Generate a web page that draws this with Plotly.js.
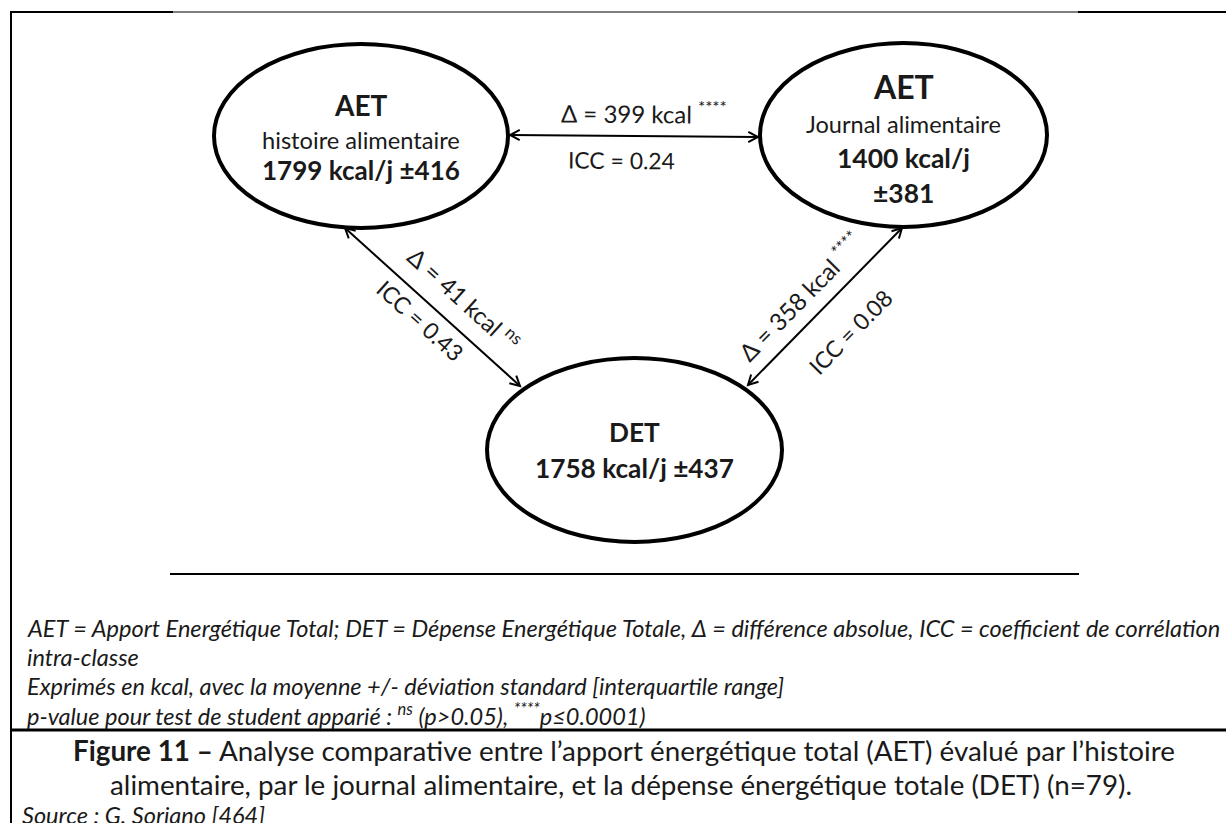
<!DOCTYPE html>
<html><head><meta charset="utf-8">
<script src="https://cdn.plot.ly/plotly-3.0.1.min.js"></script>
<style>html,body{margin:0;padding:0;background:#fff;overflow:hidden}#chart{width:1226px;height:823px}</style>
</head><body><div id="chart"></div>
<script>
// ---------------- data ----------------
const measureNames   = ['AET', 'AET', 'DET'];
const measureMethods = ['histoire alimentaire', 'Journal alimentaire', ''];
const meanKcal       = [1799, 1400, 1758];
const sdKcal         = [416, 381, 437];
const pairFrom       = [0, 0, 2];
const pairTo         = [1, 2, 1];
const deltaKcal      = [399, 41, 358];
const iccValues      = [0.24, 0.43, 0.08];
const significance   = ['****', 'ns', '****'];
const nSubjects      = 79;
const figureNumber   = 11;
const sourceRef      = 'G. Soriano [464]';

// ---------------- layout geometry (pixel space) ----------------
const W = 1226, H = 823;
const FONT = 'Lato';
const INK = '#1a1a1a';
const nodeBox = [
  {cx: 361,   cy: 136, rx: 147,   ry: 92},
  {cx: 903.5, cy: 135, rx: 143.5, ry: 92},
  {cx: 634.5, cy: 450, rx: 147.5, ry: 92}
];
// arrow endpoints per pair [start, end]
const arrowEnds = [
  [[510, 135], [758, 137]],
  [[345, 228], [520, 386]],
  [[748, 385], [902, 228]]
];
const deltaPos = [[644, 112], [465, 298], [800, 296]];
const iccPos   = [[621, 160], [420, 320], [850, 332]];

const ctx = document.createElement('canvas').getContext('2d');
function fit(str, target, weight, style) {
  ctx.font = (style || 'normal') + ' ' + (weight || 'normal') + ' 100px ' + FONT;
  return 100 * target / ctx.measureText(str).width;
}

const shapes = [];
const annotations = [];
function ann(text, x, y, size, opts) {
  annotations.push(Object.assign({
    text: text, x: x, y: y, xref: 'x', yref: 'y', showarrow: false,
    xanchor: 'center', yanchor: 'middle',
    font: {family: FONT, size: size, color: INK}
  }, opts || {}));
}

// ---- ellipses ----
nodeBox.forEach(b => shapes.push({
  type: 'circle', xref: 'x', yref: 'y',
  x0: b.cx - b.rx, x1: b.cx + b.rx, y0: b.cy - b.ry, y1: b.cy + b.ry,
  line: {color: '#000', width: 4}, fillcolor: 'rgba(0,0,0,0)'
}));

// ---- node texts ----
// s: fixed size, w: fit-to-width target, same: reuse previous size
const nodeLines = [
  [{t: measureNames[0], b: true, y: 105, s: 28},
   {t: measureMethods[0], b: false, y: 140, w: 198},
   {t: meanKcal[0] + ' kcal/j ±' + sdKcal[0], b: true, y: 170, w: 198}],
  [{t: measureNames[1], b: true, y: 86, s: 32},
   {t: measureMethods[1], b: false, y: 124, w: 195},
   {t: meanKcal[1] + ' kcal/j', b: true, y: 158, w: 133},
   {t: '±' + sdKcal[1], b: true, y: 193, same: true}],
  [{t: meanKcal[2] + ' kcal/j ±' + sdKcal[2], b: true, y: 468, w: 199},
   {t: measureNames[2], b: true, y: 432, same: true}]
];
nodeLines.forEach((lines, i) => {
  let lastSize = 24;
  lines.forEach(l => {
    const size = l.s ? l.s : (l.w ? fit(l.t, l.w, l.b ? 'bold' : 'normal') : lastSize);
    lastSize = size;
    ann(l.b ? '<b>' + l.t + '</b>' : l.t, nodeBox[i].cx, l.y, size);
  });
});

// ---- arrows ----
function chevron(tip, from) {
  const dx = tip[0] - from[0], dy = tip[1] - from[1];
  const len = Math.hypot(dx, dy), ux = dx / len, uy = dy / len;
  const L = 11, a = 28 * Math.PI / 180;
  const p = s => {
    const c = Math.cos(s * a), sn = Math.sin(s * a);
    const rx = ux * c - uy * sn, ry = ux * sn + uy * c;
    return [tip[0] - L * rx, tip[1] - L * ry];
  };
  const a1 = p(1), a2 = p(-1);
  return 'M' + a1[0] + ',' + a1[1] + ' L' + tip[0] + ',' + tip[1] + ' L' + a2[0] + ',' + a2[1];
}
const statSize = fit('ICC = 0.24', 107);
const deltaSize = fit('Δ = 399 kcal', 131);
pairFrom.forEach((f, k) => {
  const [s, e] = arrowEnds[k];
  shapes.push({type: 'line', xref: 'x', yref: 'y', x0: s[0], y0: s[1], x1: e[0], y1: e[1],
               line: {color: '#000', width: 2}});
  shapes.push({type: 'path', xref: 'x', yref: 'y', path: chevron(s, e), line: {color: '#000', width: 2}});
  shapes.push({type: 'path', xref: 'x', yref: 'y', path: chevron(e, s), line: {color: '#000', width: 2}});
  let ang = Math.atan2(e[1] - s[1], e[0] - s[0]) * 180 / Math.PI;
  if (ang > 90) ang -= 180;
  if (ang < -90) ang += 180;
  ann('Δ = ' + deltaKcal[k] + ' kcal <sup>' + significance[k] + '</sup>',
      deltaPos[k][0], deltaPos[k][1], deltaSize, {textangle: ang});
  ann('ICC = ' + iccValues[k].toFixed(2), iccPos[k][0], iccPos[k][1], statSize, {textangle: ang});
});

// ---- frame lines ----
function hline(x0, x1, y, w) {
  shapes.push({type: 'line', xref: 'x', yref: 'y', x0: x0, x1: x1, y0: y, y1: y, line: {color: '#000', width: w}});
}
shapes.push({type: 'line', xref: 'x', yref: 'y', x0: 11, x1: 11, y0: 11, y1: H, line: {color: '#000', width: 2}});
hline(10, 173, 12, 2);
hline(173, 1078, 12, 1);
hline(1078, W, 12, 2);
hline(170, 1079, 574, 2);
hline(10, W, 730, 3);

// ---- captions ----
const line1 = 'AET = Apport Energétique Total; DET = Dépense Energétique Totale, Δ = différence absolue, ICC = coefficient de corrélation';
const capSize = fit(line1, 1196, 'normal', 'italic');
const capX = 25;
ann('<i>' + line1 + '</i>', capX, 628, capSize, {xanchor: 'left'});
ann('<i>intra-classe</i>', capX, 657, capSize, {xanchor: 'left'});
ann('<i>Exprimés en kcal, avec la moyenne +/- déviation standard [interquartile range]</i>', capX, 686, capSize, {xanchor: 'left'});
ann('<i>p-value pour test de student apparié : <sup>ns</sup> (p&gt;0.05), <sup>****</sup>p≤0.0001)</i>', capX, 714, capSize, {xanchor: 'left'});

const fig2 = 'alimentaire, par le journal alimentaire, et la dépense énergétique totale (DET) (n=' + nSubjects + ').';
const figSize = fit(fig2, 1023);
ann('<b>Figure ' + figureNumber + ' –</b> Analyse comparative entre l’apport énergétique total (AET) évalué par l’histoire', 624, 750, figSize);
ann(fig2, 621, 784, figSize);
ann('<i>Source : ' + sourceRef + '</i>', 20, 815, capSize, {xanchor: 'left'});

const layout = {
  width: W, height: H, margin: {l: 0, r: 0, t: 0, b: 0, pad: 0},
  paper_bgcolor: '#fff', plot_bgcolor: '#fff', showlegend: false,
  xaxis: {range: [0, W], visible: false, fixedrange: true},
  yaxis: {range: [H, 0], visible: false, fixedrange: true},
  shapes: shapes, annotations: annotations
};
Plotly.newPlot('chart', [], layout, {staticPlot: true, displayModeBar: false});
</script>
</body></html>
